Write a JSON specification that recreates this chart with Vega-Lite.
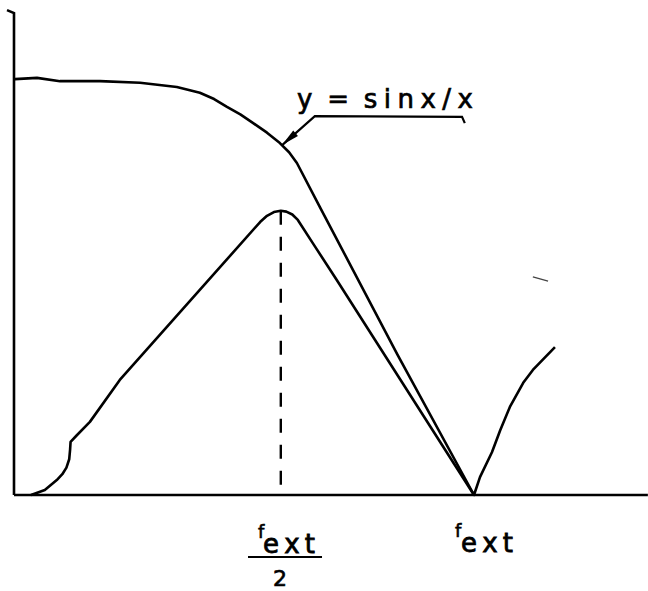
{
  "$schema": "https://vega.github.io/schema/vega-lite/v6.json",
  "width": 648,
  "height": 591,
  "autosize": {"type": "none"},
  "padding": 0,
  "background": "white",
  "config": {"view": {"stroke": null}},
  "datasets": {
    "axes": [
      {"part": "y-axis", "i": 0, "f": -0.0152, "a": 1.167},
      {"part": "y-axis", "i": 1, "f": 0.0, "a": 1.160},
      {"part": "y-axis", "i": 2, "f": 0.0, "a": 0.0},
      {"part": "x-axis", "i": 0, "f": 0.0, "a": 0.0},
      {"part": "x-axis", "i": 1, "f": 1.378, "a": 0.0}
    ],
    "curves": [
      {"series": "sinx/x", "i": 0, "f": 0.002, "a": 1.001},
      {"series": "sinx/x", "i": 1, "f": 0.05, "a": 1.004},
      {"series": "sinx/x", "i": 2, "f": 0.1, "a": 0.996},
      {"series": "sinx/x", "i": 3, "f": 0.187, "a": 0.996},
      {"series": "sinx/x", "i": 4, "f": 0.274, "a": 0.992},
      {"series": "sinx/x", "i": 5, "f": 0.354, "a": 0.982},
      {"series": "sinx/x", "i": 6, "f": 0.404, "a": 0.968},
      {"series": "sinx/x", "i": 7, "f": 0.435, "a": 0.953},
      {"series": "sinx/x", "i": 8, "f": 0.463, "a": 0.934},
      {"series": "sinx/x", "i": 9, "f": 0.492, "a": 0.916},
      {"series": "sinx/x", "i": 10, "f": 0.52, "a": 0.895},
      {"series": "sinx/x", "i": 11, "f": 0.55, "a": 0.872},
      {"series": "sinx/x", "i": 12, "f": 0.578, "a": 0.847},
      {"series": "sinx/x", "i": 13, "f": 0.598, "a": 0.825},
      {"series": "sinx/x", "i": 14, "f": 0.615, "a": 0.799},
      {"series": "sinx/x", "i": 15, "f": 0.665, "a": 0.693},
      {"series": "sinx/x", "i": 16, "f": 0.833, "a": 0.339},
      {"series": "sinx/x", "i": 17, "f": 1.0, "a": 0.0},
      {"series": "sinx/x", "i": 18, "f": 1.013, "a": 0.043},
      {"series": "sinx/x", "i": 19, "f": 1.039, "a": 0.103},
      {"series": "sinx/x", "i": 20, "f": 1.057, "a": 0.156},
      {"series": "sinx/x", "i": 21, "f": 1.078, "a": 0.212},
      {"series": "sinx/x", "i": 22, "f": 1.107, "a": 0.27},
      {"series": "sinx/x", "i": 23, "f": 1.128, "a": 0.301},
      {"series": "sinx/x", "i": 24, "f": 1.176, "a": 0.356},
      {"series": "response", "i": 0, "f": 0.037, "a": 0.0},
      {"series": "response", "i": 1, "f": 0.067, "a": 0.012},
      {"series": "response", "i": 2, "f": 0.093, "a": 0.036},
      {"series": "response", "i": 3, "f": 0.105, "a": 0.05},
      {"series": "response", "i": 4, "f": 0.114, "a": 0.066},
      {"series": "response", "i": 5, "f": 0.12, "a": 0.086},
      {"series": "response", "i": 6, "f": 0.122, "a": 0.11},
      {"series": "response", "i": 7, "f": 0.123, "a": 0.128},
      {"series": "response", "i": 8, "f": 0.135, "a": 0.142},
      {"series": "response", "i": 9, "f": 0.165, "a": 0.176},
      {"series": "response", "i": 10, "f": 0.23, "a": 0.277},
      {"series": "response", "i": 11, "f": 0.535, "a": 0.657},
      {"series": "response", "i": 12, "f": 0.55, "a": 0.672},
      {"series": "response", "i": 13, "f": 0.565, "a": 0.681},
      {"series": "response", "i": 14, "f": 0.58, "a": 0.684},
      {"series": "response", "i": 15, "f": 0.592, "a": 0.682},
      {"series": "response", "i": 16, "f": 0.605, "a": 0.675},
      {"series": "response", "i": 17, "f": 0.617, "a": 0.662},
      {"series": "response", "i": 18, "f": 0.652, "a": 0.602},
      {"series": "response", "i": 19, "f": 0.702, "a": 0.517},
      {"series": "response", "i": 20, "f": 1.0, "a": 0.0}
    ],
    "halfMark": [{"f": 0.58, "a": 0.684, "a0": 0.0}],
    "leader": [
      {"i": 0, "f": 0.980, "a": 0.895},
      {"i": 1, "f": 0.974, "a": 0.910},
      {"i": 2, "f": 0.654, "a": 0.912},
      {"i": 3, "f": 0.583, "a": 0.842}
    ],
    "arrow": [{"f": 0.5974, "a": 0.8566}],
    "formula": [{"f": 0.6152, "a": 0.9314, "text": "y \u2005= \u2005s\u2005i\u2005n\u2005x\u2005/\u2005x"}],
    "fLetters": [
      {"f": 0.5304, "a": -0.1035, "text": "f"},
      {"f": 0.9587, "a": -0.1011, "text": "f"}
    ],
    "extLetters": [
      {"f": 0.5413, "a": -0.1396, "text": "e\u2009x\u2009t"},
      {"f": 0.9717, "a": -0.1372, "text": "e\u2009x\u2009t"}
    ],
    "fractionBar": [{"f": 0.5087, "f2": 0.6696, "a": -0.1492}],
    "denominator": [{"f": 0.5783, "a": -0.2190, "text": "2"}],
    "speck": [
      {"i": 0, "f": 1.128, "a": 0.5247},
      {"i": 1, "f": 1.161, "a": 0.515}
    ]
  },
  "encoding": {
    "x": {"field": "f", "type": "quantitative", "scale": {"domain": [-0.03043, 1.37826], "nice": false, "zero": false}, "axis": null},
    "y": {"field": "a", "type": "quantitative", "scale": {"domain": [-0.23105, 1.19134], "nice": false, "zero": false}, "axis": null}
  },
  "layer": [
    {
      "data": {"name": "axes"},
      "mark": {"type": "line", "color": "black", "strokeWidth": 2.6, "strokeJoin": "miter"},
      "encoding": {"detail": {"field": "part"}, "order": {"field": "i", "type": "quantitative"}}
    },
    {
      "data": {"name": "curves"},
      "mark": {"type": "line", "color": "black", "strokeWidth": 2.6, "interpolate": "linear", "strokeJoin": "round"},
      "encoding": {"detail": {"field": "series"}, "order": {"field": "i", "type": "quantitative"}}
    },
    {
      "data": {"name": "halfMark"},
      "mark": {"type": "rule", "color": "black", "strokeWidth": 2.4, "strokeDash": [14, 12]},
      "encoding": {"y2": {"field": "a0"}}
    },
    {
      "data": {"name": "leader"},
      "mark": {"type": "line", "color": "black", "strokeWidth": 2.2},
      "encoding": {"order": {"field": "i", "type": "quantitative"}}
    },
    {
      "data": {"name": "arrow"},
      "mark": {"type": "point", "shape": "M0,-1L0.4,1L-0.4,1Z", "size": 324, "angle": 229, "filled": true, "color": "black", "opacity": 1}
    },
    {
      "data": {"name": "formula"},
      "mark": {"type": "text", "align": "left", "baseline": "alphabetic", "font": "DejaVu Sans", "fontSize": 26, "color": "black", "stroke": "black", "strokeWidth": 0.7},
      "encoding": {"text": {"field": "text"}}
    },
    {
      "data": {"name": "fLetters"},
      "mark": {"type": "text", "align": "left", "baseline": "alphabetic", "font": "DejaVu Sans", "fontSize": 18, "color": "black", "stroke": "black", "strokeWidth": 0.6},
      "encoding": {"text": {"field": "text"}}
    },
    {
      "data": {"name": "extLetters"},
      "mark": {"type": "text", "align": "left", "baseline": "alphabetic", "font": "DejaVu Sans", "fontSize": 26, "color": "black", "stroke": "black", "strokeWidth": 0.8},
      "encoding": {"text": {"field": "text"}}
    },
    {
      "data": {"name": "fractionBar"},
      "mark": {"type": "rule", "color": "black", "strokeWidth": 2.2},
      "encoding": {"x2": {"field": "f2"}}
    },
    {
      "data": {"name": "denominator"},
      "mark": {"type": "text", "align": "center", "baseline": "alphabetic", "font": "DejaVu Sans", "fontSize": 22, "color": "black", "stroke": "black", "strokeWidth": 0.7},
      "encoding": {"text": {"field": "text"}}
    },
    {
      "data": {"name": "speck"},
      "mark": {"type": "line", "color": "#444", "strokeWidth": 1.3},
      "encoding": {"order": {"field": "i", "type": "quantitative"}}
    }
  ]
}
